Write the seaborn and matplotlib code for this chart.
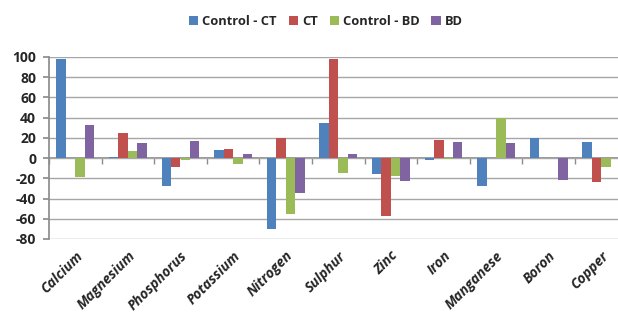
import matplotlib
matplotlib.use("Agg")
import matplotlib.pyplot as plt
import seaborn as sns
import pandas as pd
import numpy as np

categories = ["Calcium", "Magnesium", "Phosphorus", "Potassium", "Nitrogen",
              "Sulphur", "Zinc", "Iron", "Manganese", "Boron", "Copper"]
series_names = ["Control - CT", "CT", "Control - BD", "BD"]
control_ct = [98, 1.5, -28, 8.5, -70, 34.5, -15.5, -2, -28, 20, 15.5]
ct = [0.5, 25, -9, 9.5, 20, 98, -57.5, 18, 0, 0.5, -24]
control_bd = [-18.5, 7.5, -1.5, -6, -55, -14.5, -17.5, -0.5, 40, 0.5, -9]
bd = [33, 14.5, 17, 4.5, -35, 4.5, -23, 16, 14.5, -22, 0]
yticks = [-80, -60, -40, -20, 0, 20, 40, 60, 80, 100]
colors = ["#4F81BD", "#C0504D", "#9BBB59", "#8064A2"]

rows = []
for name, vals in zip(series_names, [control_ct, ct, control_bd, bd]):
    for c, v in zip(categories, vals):
        rows.append({"Nutrient": c, "Series": name, "Value": v})
df = pd.DataFrame(rows)

sns.set_theme(style="white")
FONT = ['Open Sans', 'DejaVu Sans']
plt.rcParams['font.family'] = FONT

fig = plt.figure(figsize=(6.18, 3.26), dpi=100)
ax = fig.add_axes([49/618, 87/326, 578.6/618, 182/326])

sns.barplot(data=df, x="Nutrient", y="Value", hue="Series", order=categories,
            hue_order=series_names, palette=colors, width=0.72, saturation=1,
            ax=ax, edgecolor="none", errorbar=None)

ax.set_ylim(yticks[0], yticks[-1])
ax.set_xlim(-0.5, len(categories) - 0.5)
ax.set_yticks(yticks)
ax.set_yticklabels([str(t) for t in yticks], fontsize=10, fontweight="bold")
ax.yaxis.grid(True, color="#a6a6a6", linewidth=1)
ax.set_axisbelow(True)
ax.set_xlabel("")
ax.set_ylabel("")
for s in ["top", "right", "bottom"]:
    ax.spines[s].set_visible(False)
ax.spines["left"].set_color("#8c8c8c")
ax.tick_params(axis="y", which="major", left=True, length=4.3, color="#8c8c8c", pad=5, direction="out")
ax.tick_params(axis="x", length=0, pad=7)
ax.set_xticks(range(len(categories)))
ax.set_xticklabels(categories, rotation=45, ha="right", rotation_mode="anchor",
                   fontsize=10, fontweight="bold", fontstyle="italic")

# zero axis with category boundary ticks
y0, y1 = ax.get_ylim()
zero_frac = (0 - y0) / (y1 - y0)
sec = ax.secondary_xaxis(zero_frac)
sec.set_xticks(np.arange(len(categories) + 1) - 0.5)
sec.set_xticklabels([])
sec.tick_params(length=4.3, color="#8c8c8c", direction="out", width=1)
sec.spines["bottom"].set_color("#8c8c8c")
sec.spines["top"].set_visible(False)

handles, labels = ax.get_legend_handles_labels()
ax.legend(handles, labels, loc="upper center", bbox_to_anchor=(326/618, 1.0),
          bbox_transform=fig.transFigure, ncol=4, frameon=False,
          prop={"size": 9.3, "weight": "bold", "family": FONT}, handlelength=0.7, handleheight=0.7,
          handletextpad=0.35, columnspacing=0.9, borderaxespad=0.8)

fig.savefig("out.png", dpi=100)
